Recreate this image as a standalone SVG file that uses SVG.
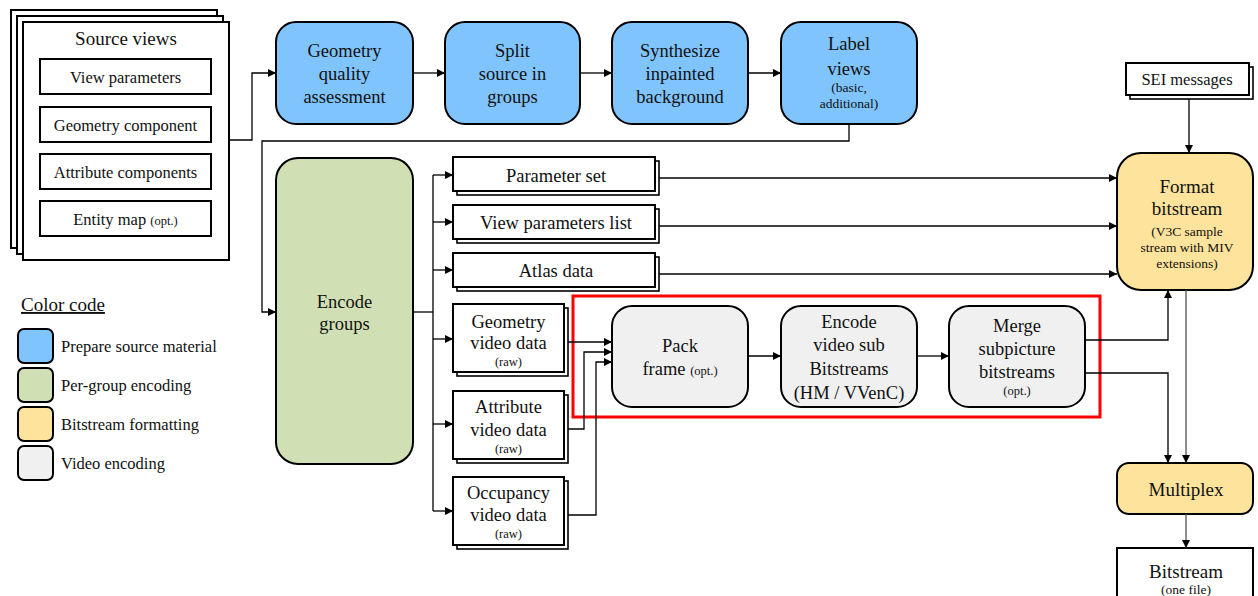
<svg xmlns="http://www.w3.org/2000/svg" width="1258" height="596" viewBox="0 0 1258 596">
<defs>
<marker id="ah" viewBox="0 0 10 10" refX="10" refY="5" markerWidth="8" markerHeight="8" markerUnits="userSpaceOnUse" orient="auto">
<path d="M0,0 L10,5 L0,10 z" fill="#000"/>
</marker>
</defs>
<style>
text{font-family:"Liberation Serif","Times New Roman",serif;fill:#111;text-anchor:middle}
.t{font-size:18.5px}
.s{font-size:16.5px}
.sm{font-size:12.5px}
.xs{font-size:13.5px}
.sheet{fill:#fff;stroke:#000;stroke-width:2}
.box{fill:#fff;stroke:#000;stroke-width:2}
.back{fill:#fff;stroke:#000;stroke-width:1.6}
.blue{fill:#7fc4fd;stroke:#000;stroke-width:2}
.green{fill:#d1e0b4;stroke:#000;stroke-width:2}
.yellow{fill:#fde39b;stroke:#000;stroke-width:2}
.gray{fill:#f0f0f0;stroke:#000;stroke-width:2}
.c{fill:none;stroke:#000;stroke-width:1.3}
.cg{fill:none;stroke:#444;stroke-width:1.2}
.lg{text-anchor:start;font-size:16.5px}
</style>

<g id="source-views">
<rect class="sheet" x="11" y="10" width="206" height="238"/>
<rect class="sheet" x="17" y="16" width="206" height="238"/>
<rect class="sheet" x="23" y="22" width="206" height="238"/>
<text x="126" y="45" style="font-size:19px">Source views</text>
<rect class="box" x="40" y="59" width="171" height="35"/>
<text class="s" x="125.5" y="83">View parameters</text>
<rect class="box" x="40" y="107" width="171" height="35"/>
<text class="s" x="125.5" y="131">Geometry component</text>
<rect class="box" x="40" y="154" width="171" height="35"/>
<text class="s" x="125.5" y="178">Attribute components</text>
<rect class="box" x="40" y="201" width="171" height="35"/>
<text class="s" x="125.5" y="225">Entity map <tspan style="font-size:12.5px">(opt.)</tspan></text>
</g>

<g id="legend">
<text x="21" y="311" style="font-size:19px;text-anchor:start;text-decoration:underline">Color code</text>
<rect class="blue" x="18" y="329" width="35" height="34" rx="6"/>
<text class="lg" x="61" y="352">Prepare source material</text>
<rect class="green" x="18" y="368" width="35" height="34" rx="6"/>
<text class="lg" x="61" y="391">Per-group encoding</text>
<rect class="yellow" x="18" y="407" width="35" height="34" rx="6"/>
<text class="lg" x="61" y="430">Bitstream formatting</text>
<rect class="gray" x="18" y="446" width="35" height="34" rx="6"/>
<text class="lg" x="61" y="469">Video encoding</text>
</g>

<g id="geometry-quality">
<rect class="blue" x="276" y="22" width="137" height="102" rx="20"/>
<text class="t" x="344.5" y="57">Geometry</text>
<text class="t" x="344.5" y="80">quality</text>
<text class="t" x="344.5" y="103">assessment</text>
</g>
<g id="split-source">
<rect class="blue" x="445" y="22" width="135" height="102" rx="20"/>
<text class="t" x="512.5" y="57">Split</text>
<text class="t" x="512.5" y="80">source in</text>
<text class="t" x="512.5" y="103">groups</text>
</g>
<g id="synthesize">
<rect class="blue" x="612" y="22" width="136" height="102" rx="20"/>
<text class="t" x="680" y="57">Synthesize</text>
<text class="t" x="680" y="80">inpainted</text>
<text class="t" x="680" y="103">background</text>
</g>
<g id="label-views">
<rect class="blue" x="781" y="22" width="136" height="102" rx="20"/>
<text class="t" x="849" y="50">Label</text>
<text class="t" x="849" y="75">views</text>
<text class="xs" x="849" y="92">(basic,</text>
<text class="xs" x="849" y="108">additional)</text>
</g>

<g id="encode-groups">
<rect class="green" x="276" y="158" width="137" height="306" rx="22"/>
<text class="t" x="344.5" y="308">Encode</text>
<text class="t" x="344.5" y="330">groups</text>
</g>

<g id="parameter-set">
<rect class="back" x="457" y="161" width="202" height="34"/>
<rect class="box" x="453" y="157" width="202" height="34"/>
<text class="t" x="556" y="182">Parameter set</text>
</g>
<g id="view-parameters-list">
<rect class="back" x="457" y="209" width="202" height="34"/>
<rect class="box" x="453" y="205" width="202" height="34"/>
<text class="t" x="556" y="229">View parameters list</text>
</g>
<g id="atlas-data">
<rect class="back" x="457" y="257" width="202" height="34"/>
<rect class="box" x="453" y="253" width="202" height="34"/>
<text class="t" x="556" y="277">Atlas data</text>
</g>

<g id="geometry-video">
<rect class="back" x="457" y="308" width="111" height="68"/>
<rect class="box" x="453" y="304" width="111" height="68"/>
<text class="t" x="508.5" y="328">Geometry</text>
<text class="t" x="508.5" y="349">video data</text>
<text class="sm" x="508.5" y="366">(raw)</text>
</g>
<g id="attribute-video">
<rect class="back" x="457" y="395" width="111" height="68"/>
<rect class="box" x="453" y="391" width="111" height="68"/>
<text class="t" x="508.5" y="413">Attribute</text>
<text class="t" x="508.5" y="436">video data</text>
<text class="sm" x="508.5" y="453">(raw)</text>
</g>
<g id="occupancy-video">
<rect class="back" x="457" y="481" width="111" height="68"/>
<rect class="box" x="453" y="477" width="111" height="68"/>
<text class="t" x="508.5" y="499">Occupancy</text>
<text class="t" x="508.5" y="521">video data</text>
<text class="sm" x="508.5" y="538">(raw)</text>
</g>

<g id="video-encoding-frame">
<rect x="573" y="296" width="527" height="121" fill="none" stroke="#f00" stroke-width="3"/>
</g>
<g id="pack-frame">
<rect class="gray" x="612" y="306" width="136" height="101" rx="20"/>
<text class="t" x="680" y="352">Pack</text>
<text class="t" x="680" y="375">frame <tspan style="font-size:12.5px">(opt.)</tspan></text>
</g>
<g id="encode-video">
<rect class="gray" x="781" y="306" width="136" height="101" rx="20"/>
<text class="t" x="849" y="328">Encode</text>
<text class="t" x="849" y="351">video sub</text>
<text class="t" x="849" y="375">Bitstreams</text>
<text class="t" x="849" y="399">(HM / VVenC)</text>
</g>
<g id="merge-subpicture">
<rect class="gray" x="949" y="306" width="136" height="101" rx="20"/>
<text class="t" x="1017" y="332">Merge</text>
<text class="t" x="1017" y="355">subpicture</text>
<text class="t" x="1017" y="378">bitstreams</text>
<text class="sm" x="1017" y="395">(opt.)</text>
</g>

<g id="sei-messages">
<rect class="back" x="1130" y="67" width="123" height="32"/>
<rect class="box" x="1126" y="63" width="123" height="32"/>
<text class="s" x="1187" y="85">SEI messages</text>
</g>
<g id="format-bitstream">
<rect class="yellow" x="1117" y="153" width="136" height="137" rx="24"/>
<text x="1187" y="193" style="font-size:19px">Format</text>
<text x="1187" y="215" style="font-size:19px">bitstream</text>
<text class="xs" x="1187" y="236">(V3C sample</text>
<text class="xs" x="1187" y="252">stream with MIV</text>
<text class="xs" x="1187" y="268">extensions)</text>
</g>
<g id="multiplex">
<rect class="yellow" x="1117" y="463" width="136" height="51" rx="12"/>
<text x="1186" y="496" style="font-size:19px">Multiplex</text>
</g>
<g id="bitstream">
<rect class="box" x="1117" y="548" width="136" height="60"/>
<text x="1186" y="578" style="font-size:19px">Bitstream</text>
<text class="xs" x="1186" y="594">(one file)</text>
</g>

<g id="connectors">
<polyline class="c" points="229,140 252,140 252,73 276,73" marker-end="url(#ah)"/>
<line class="c" x1="413" y1="73" x2="445" y2="73" marker-end="url(#ah)"/>
<line class="c" x1="580" y1="73" x2="612" y2="73" marker-end="url(#ah)"/>
<line class="c" x1="748" y1="73" x2="781" y2="73" marker-end="url(#ah)"/>
<polyline class="c" points="849,124 849,141 262,141 262,312 276,312" marker-end="url(#ah)"/>
<polyline class="c" points="413,312 433,312"/>
<line class="c" x1="433" y1="175" x2="433" y2="511"/>
<line class="c" x1="433" y1="175" x2="453" y2="175" marker-end="url(#ah)"/>
<line class="c" x1="433" y1="222" x2="453" y2="222" marker-end="url(#ah)"/>
<line class="c" x1="433" y1="270" x2="453" y2="270" marker-end="url(#ah)"/>
<line class="c" x1="433" y1="339" x2="453" y2="339" marker-end="url(#ah)"/>
<line class="c" x1="433" y1="424" x2="453" y2="424" marker-end="url(#ah)"/>
<line class="c" x1="433" y1="511" x2="453" y2="511" marker-end="url(#ah)"/>
<line class="c" x1="659" y1="178" x2="1117" y2="178" marker-end="url(#ah)"/>
<line class="c" x1="659" y1="226" x2="1117" y2="226" marker-end="url(#ah)"/>
<line class="c" x1="659" y1="274" x2="1117" y2="274" marker-end="url(#ah)"/>
<line class="c" x1="568" y1="342" x2="612" y2="342" marker-end="url(#ah)"/>
<polyline class="c" points="568,429 584,429 584,352 612,352" marker-end="url(#ah)"/>
<polyline class="c" points="568,515 596,515 596,362 612,362" marker-end="url(#ah)"/>
<line class="c" x1="748" y1="356" x2="781" y2="356" marker-end="url(#ah)"/>
<line class="c" x1="917" y1="356" x2="949" y2="356" marker-end="url(#ah)"/>
<polyline class="c" points="1085,340 1168,340 1168,290" marker-end="url(#ah)"/>
<polyline class="c" points="1085,373 1168,373 1168,463" marker-end="url(#ah)"/>
<line class="cg" x1="1186" y1="290" x2="1186" y2="463" marker-end="url(#ah)"/>
<line class="c" x1="1189" y1="99" x2="1189" y2="153" marker-end="url(#ah)"/>
<line class="cg" x1="1186" y1="514" x2="1186" y2="548" marker-end="url(#ah)"/>
</g>
</svg>
